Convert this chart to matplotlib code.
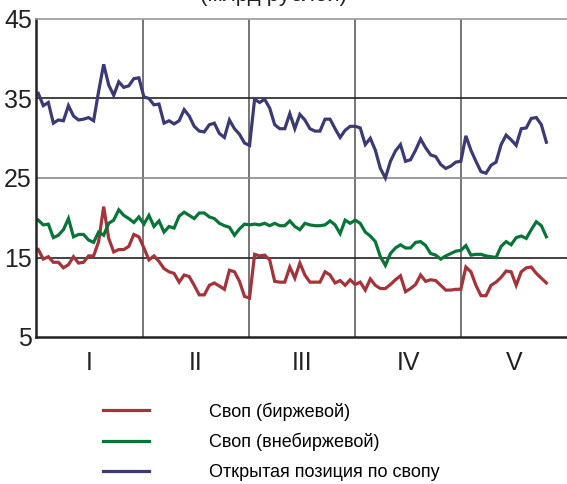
import matplotlib
matplotlib.use("Agg")
import matplotlib.pyplot as plt
import numpy as np

plt.rcParams["font.family"] = ["Liberation Sans", "DejaVu Sans"]

SECTIONS = ["I", "II", "III", "IV", "V"]

swap_exchange = [
    16.0, 14.8, 15.1, 14.4, 14.4, 13.7, 14.1, 15.1, 14.3, 14.4, 15.2, 15.2, 17.0, 21.4, 17.4, 15.7, 16.0, 16.0, 16.4, 17.9, 17.6,
    16.2, 14.7, 15.2, 14.5, 13.6, 13.2, 13.0, 11.9, 12.8, 12.6, 11.5, 10.3, 10.3, 11.5, 11.8, 11.4, 11.0, 13.4, 13.2, 12.0, 10.1, 9.9,
    15.4, 15.2, 15.3, 14.7, 12.0, 11.9, 11.9, 13.8, 12.4, 14.3, 12.8, 11.9, 11.9, 11.9, 13.2, 12.8, 11.8, 12.1, 11.5, 12.2, 11.6,
    11.9, 10.9, 12.3, 11.5, 11.1, 11.1, 11.6, 12.2, 12.7, 10.7, 11.1, 11.6, 12.8, 12.0, 12.2, 12.1, 11.5, 10.9, 10.9, 11.0, 11.0,
    13.8, 13.2, 11.5, 10.2, 10.2, 11.5, 11.9, 12.5, 13.3, 13.2, 11.5, 13.2, 13.7, 13.8, 13.0, 12.4, 11.8,
]

swap_otc = [
    19.7, 19.1, 19.2, 17.5, 17.8, 18.5, 19.9, 17.6, 17.9, 17.9, 17.2, 16.9, 18.2, 17.8, 19.3, 19.7, 21.0, 20.3, 19.9, 19.4, 20.1,
    19.2, 20.3, 18.9, 19.6, 18.2, 18.9, 18.7, 20.2, 20.7, 20.3, 19.9, 20.6, 20.6, 20.1, 19.9, 19.3, 19.0, 18.8, 17.8, 18.6, 19.2, 19.1,
    19.2, 19.1, 19.3, 19.0, 19.3, 19.0, 19.0, 19.6, 18.9, 18.5, 19.3, 19.1, 19.0, 19.0, 19.1, 19.6, 19.1, 18.0, 19.7, 19.3, 19.7,
    19.3, 18.2, 17.7, 17.0, 15.1, 14.0, 15.5, 16.2, 16.6, 16.2, 16.2, 16.9, 17.0, 16.5, 15.5, 15.3, 14.8, 15.2, 15.5, 15.8, 15.9,
    16.5, 15.3, 15.4, 15.4, 15.2, 15.1, 15.0, 16.4, 17.0, 16.6, 17.5, 17.7, 17.4, 18.5, 19.5, 19.0, 17.6,
]

open_position = [
    35.65, 34.1, 34.5, 31.9, 32.3, 32.2, 34.1, 32.8, 32.3, 32.4, 32.6, 32.2, 35.9, 39.3, 36.7, 35.4, 37.1, 36.4, 36.6, 37.5, 37.6,
    35.2, 35.0, 34.2, 34.3, 31.9, 32.2, 31.8, 32.2, 33.6, 32.8, 31.5, 30.9, 30.8, 31.7, 31.9, 30.6, 30.1, 32.3, 31.2, 30.5, 29.4, 29.1,
    34.9, 34.5, 34.9, 33.8, 31.7, 31.2, 31.2, 33.1, 31.2, 33.0, 32.3, 31.2, 30.9, 30.9, 32.4, 32.4, 31.2, 30.1, 31.0, 31.5, 31.5,
    31.3, 29.2, 30.0, 28.5, 26.2, 25.0, 27.1, 28.4, 29.2, 27.1, 27.3, 28.5, 29.9, 28.8, 27.9, 27.7, 26.7, 26.2, 26.5, 27.0, 27.1,
    30.3, 28.5, 27.1, 25.8, 25.6, 26.6, 27.0, 29.2, 30.4, 29.8, 29.1, 31.2, 31.3, 32.5, 32.6, 31.7, 29.5,
]

LABELS = ["Своп (биржевой)", "Своп (внебиржевой)", "Открытая позиция по свопу"]
COLORS = ["#A5333A", "#087538", "#3B3A74"]

fig = plt.figure(figsize=(5.67, 4.84), dpi=100)
ax = fig.add_axes([36 / 567, 147 / 484, 531 / 567, 318 / 484])

x = np.arange(len(open_position))
lines = []
for series, color, label in zip([swap_exchange, swap_otc, open_position], COLORS, LABELS):
    ln, = ax.plot(x, series, color=color, lw=2.3, label=label, solid_joinstyle="miter")
    lines.append(ln)

x0, x1 = -0.45, 105.1
ax.set_xlim(x0, x1)
ax.set_ylim(5, 45)

# section dividers and horizontal grid
bounds = [20.8, 41.9, 63.0, 84.1]
for b in bounds:
    ax.axvline(b, color="#6a6a6a", lw=1.3, zorder=0)
for yv, c in [(15, "#222222"), (25, "#8a8a8a"), (35, "#222222")]:
    ax.axhline(yv, color=c, lw=1.2, zorder=0)

edges = [x0] + bounds + [x1]
centers = [(a + b) / 2 for a, b in zip(edges[:-1], edges[1:])]
ax.set_xticks(centers)
ax.set_xticklabels(SECTIONS, fontsize=16)
ax.set_yticks([5, 15, 25, 35, 45])
ax.tick_params(axis="both", length=0, labelsize=18, colors="#222222")
ax.tick_params(axis="x", pad=10)
ax.tick_params(axis="y", pad=3)

ax.spines["right"].set_visible(False)
ax.spines["top"].set_color("#9a9a9a")
ax.spines["top"].set_linewidth(1.2)
for s in ["left", "bottom"]:
    ax.spines[s].set_color("#222222")
    ax.spines[s].set_linewidth(1.8)

# title, cut off by the top edge as in the source image
fig.text(0.483, 1 - 1 / 484, "(млрд рублей)", ha="center", va="baseline",
         fontsize=16, color="#222222")

fig.legend(handles=lines, loc="upper left", bbox_to_anchor=(96 / 567, 1 - 395 / 484),
           frameon=False, fontsize=13, handlelength=2.55, handletextpad=3.3,
           labelspacing=0.7, borderaxespad=0)

fig.savefig("out.png", dpi=100)
